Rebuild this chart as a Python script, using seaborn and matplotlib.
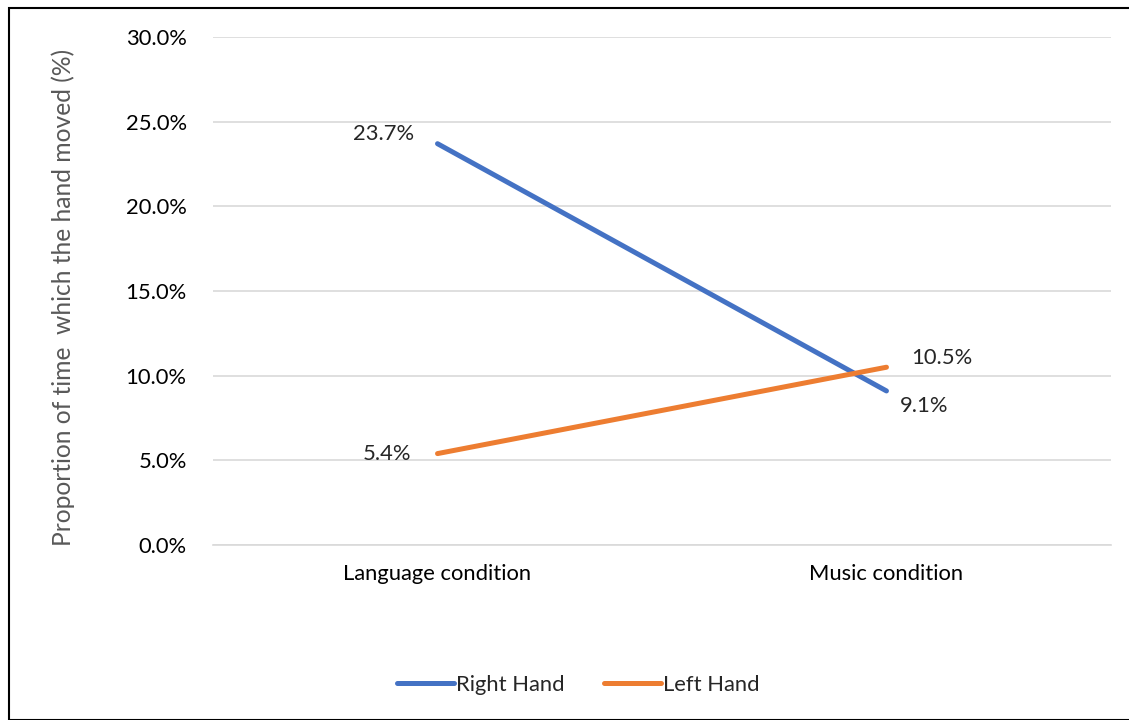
import matplotlib
matplotlib.use("Agg")
import matplotlib.pyplot as plt
import seaborn as sns
import pandas as pd
from matplotlib.patches import Rectangle

categories = ["Language condition", "Music condition"]
right_hand = [23.7, 9.1]
left_hand = [5.4, 10.5]
series_names = ["Right Hand", "Left Hand"]
yticks = [0, 5, 10, 15, 20, 25, 30]

sns.set_theme(style="white")
plt.rcParams['font.family'] = ['Lato', 'DejaVu Sans']

df = pd.DataFrame({
    "x": [0, 1, 0, 1],
    "cond": categories * 2,
    "value": right_hand + left_hand,
    "series": [series_names[0]] * 2 + [series_names[1]] * 2,
})

FS = 15.8

fig = plt.figure(figsize=(11.29, 7.2), dpi=100)
ax = fig.add_axes([0.1887, 0.243, 0.984 - 0.1887, 0.9486 - 0.243])

palette = {"Right Hand": "#4472C4", "Left Hand": "#ED7D31"}
sns.lineplot(data=df, x="x", y="value", hue="series", palette=palette,
             linewidth=3.6, sort=False, ax=ax, legend=True)
for line in ax.get_lines():
    line.set_solid_capstyle("round")

ax.set_xlim(-0.5, 1.5)
ax.set_ylim(0, 30)
ax.set_yticks(yticks)
ax.set_yticklabels([f"{t:.1f}%" for t in yticks], fontsize=FS, color="#000000")
ax.set_xticks([0, 1])
ax.set_xticklabels(categories, fontsize=FS, color="#000000")
ax.tick_params(axis="y", length=0, pad=19)
ax.tick_params(axis="x", length=0, pad=14)
ax.yaxis.grid(True, color="#D9D9D9", linewidth=1.2)
ax.set_axisbelow(True)
for s in ["top", "right", "left"]:
    ax.spines[s].set_visible(False)
ax.spines["bottom"].set_color("#D9D9D9")
ax.spines["bottom"].set_linewidth(1.2)
ax.set_xlabel("")
ax.set_ylabel("")
fig.text(63 / 1129, 1 - 297.5 / 720, "Proportion of time  which the hand moved (%)",
         rotation=90, ha="center", va="center", fontsize=17.7, color="#595959")

# data labels
ax.annotate(f"{right_hand[0]:.1f}%", (0, right_hand[0]), xytext=(-17, 7),
            textcoords="offset points", ha="right", va="center", fontsize=FS)
ax.annotate(f"{right_hand[1]:.1f}%", (1, right_hand[1]), xytext=(10, -11),
            textcoords="offset points", ha="left", va="center", fontsize=FS)
ax.annotate(f"{left_hand[0]:.1f}%", (0, left_hand[0]), xytext=(-19, 0),
            textcoords="offset points", ha="right", va="center", fontsize=FS)
ax.annotate(f"{left_hand[1]:.1f}%", (1, left_hand[1]), xytext=(18, 7),
            textcoords="offset points", ha="left", va="center", fontsize=FS)

leg = ax.legend(loc="center", bbox_to_anchor=(578 / 1129, 1 - 685 / 720),
                bbox_transform=fig.transFigure, ncol=2, frameon=False,
                fontsize=FS, handlelength=2.6, handletextpad=0.1,
                columnspacing=1.8)
for h in leg.get_lines():
    h.set_linewidth(3.6)
    h.set_solid_capstyle("round")

fig.patches.append(Rectangle((9 / 1129, 0), 1.2, 1 - 8 / 720,
                             transform=fig.transFigure, fill=False,
                             edgecolor="black", linewidth=1.5))

fig.savefig("out.png", dpi=100)
